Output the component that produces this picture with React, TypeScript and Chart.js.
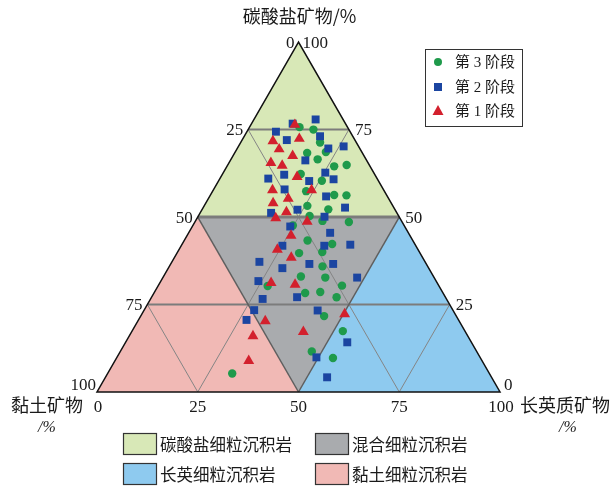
import React, { useEffect, useRef } from "react";
import { Chart, registerables } from "chart.js";

Chart.register(...registerables);

// ---- data: composition (%) of each sample ----
const stage3Carbonate = [75.7, 75.0, 71.3, 68.6, 68.3, 66.5, 64.5, 64.9, 62.3, 60.4, 57.4, 56.3, 56.2, 53.2, 52.2, 50.3, 48.9, 48.6, 47.6, 43.3, 42.3, 39.7, 40.0, 35.9, 33.0, 32.7, 30.3, 30.4, 28.3, 28.6, 27.1, 21.7, 17.4, 11.6, 9.7, 5.3];
const stage3Feldspar = [12.4, 16.2, 19.7, 22.5, 18.0, 21.5, 26.6, 29.5, 19.4, 25.6, 23.2, 30.7, 33.8, 25.6, 31.3, 27.6, 31.5, 38.2, 24.8, 30.6, 37.2, 30.3, 35.9, 38.0, 34.1, 40.3, 27.2, 45.6, 37.5, 41.1, 45.9, 45.5, 52.3, 47.5, 53.7, 30.9];
const stage3Clay = [11.9, 8.8, 9.0, 8.9, 13.7, 12.0, 8.9, 5.6, 18.3, 14.0, 19.4, 13.0, 10.0, 21.2, 16.5, 22.1, 19.6, 13.2, 27.6, 26.1, 20.5, 30.0, 24.1, 26.1, 32.9, 27.0, 42.5, 24.0, 34.2, 30.3, 27.0, 32.8, 30.3, 40.9, 36.6, 63.8];

const stage2Carbonate = [77.9, 76.7, 74.4, 73.1, 72.0, 69.6, 70.2, 66.2, 62.7, 60.8, 61.0, 62.1, 60.3, 57.9, 55.9, 52.7, 51.2, 52.1, 50.1, 47.3, 45.5, 41.8, 42.1, 41.8, 37.2, 36.6, 36.6, 35.4, 32.7, 31.7, 26.6, 27.1, 23.4, 23.3, 20.6, 14.2, 9.9, 4.2];
const stage2Feldspar = [15.3, 10.2, 7.2, 18.8, 11.1, 22.6, 26.1, 18.6, 25.3, 28.3, 12.0, 15.4, 22.5, 17.6, 28.9, 35.2, 17.6, 23.7, 31.4, 24.3, 35.1, 35.5, 41.8, 25.1, 21.7, 34.4, 40.3, 28.3, 48.2, 24.2, 27.8, 36.1, 27.3, 43.1, 26.8, 55.0, 49.5, 55.0];
const stage2Clay = [6.8, 13.1, 18.4, 8.1, 16.9, 7.8, 3.7, 15.2, 12.0, 10.9, 27.0, 22.5, 17.2, 24.5, 15.2, 12.1, 31.2, 24.2, 18.5, 28.4, 19.4, 22.7, 16.1, 33.1, 41.1, 29.0, 23.1, 36.3, 19.1, 44.1, 45.6, 36.8, 49.3, 33.6, 52.6, 30.8, 40.6, 40.8];

const stage1Carbonate = [76.4, 72.4, 71.7, 69.4, 67.5, 65.5, 64.7, 61.5, 57.7, 57.7, 55.3, 54.0, 51.4, 49.7, 48.7, 44.7, 40.7, 38.4, 31.2, 30.7, 22.3, 20.3, 16.0, 17.2, 8.9];
const stage1Feldspar = [10.9, 14.0, 7.8, 10.5, 14.8, 10.4, 13.6, 18.9, 24.4, 14.7, 19.8, 16.7, 21.3, 19.5, 27.8, 25.8, 24.4, 29.0, 27.6, 33.8, 50.3, 31.6, 30.7, 42.6, 33.2];
const stage1Clay = [12.7, 13.6, 20.5, 20.1, 17.7, 24.1, 21.7, 19.6, 17.9, 27.6, 24.9, 29.3, 27.3, 30.8, 23.5, 29.5, 34.9, 32.6, 41.2, 35.5, 27.4, 48.1, 53.3, 40.2, 57.9];

const tickValues = [0, 25, 50, 75, 100];
const gridValues = [25, 50, 75];
const stageLabels = ["第 3 阶段", "第 2 阶段", "第 1 阶段"];
const rockLabels = ["碳酸盐细粒沉积岩", "混合细粒沉积岩", "长英细粒沉积岩", "黏土细粒沉积岩"];
const axisTitles = { carbonate: "碳酸盐矿物/%", clay: "黏土矿物", feldspar: "长英质矿物", unit: "/%" };

const S3 = Math.sqrt(3) / 2;
const COLORS = {
  green: "#1f9a4b",
  blue: "#1b45a1",
  red: "#d3202d",
  carb: "#d8e8b7",
  mixed: "#a9abae",
  feld: "#8ecaef",
  clay: "#f1b9b5",
};

function toXY(c: number[], f: number[], k: number[]) {
  return c.map((cv, i) => {
    const tot = cv + f[i] + k[i];
    const cc = (cv / tot) * 100;
    const ff = (f[i] / tot) * 100;
    return { x: ff + cc / 2, y: cc * S3 };
  });
}

const SERIF = '"Liberation Serif", "Noto Sans CJK SC", serif';
const CJK = '"Noto Sans CJK SC", "Liberation Serif", sans-serif';

const ternaryPlugin = {
  id: "ternaryFrame",
  beforeDatasetsDraw(chart: any) {
    const { ctx, scales } = chart;
    const xs = scales.x, ys = scales.y;
    const P = (c: number, f: number): [number, number] => [xs.getPixelForValue(f + c / 2), ys.getPixelForValue(c * S3)];
    const poly = (pts: [number, number][], fill: string) => {
      ctx.beginPath();
      pts.forEach((p, i) => (i ? ctx.lineTo(p[0], p[1]) : ctx.moveTo(p[0], p[1])));
      ctx.closePath();
      ctx.fillStyle = fill;
      ctx.fill();
    };
    const line = (a: [number, number], b: [number, number], color: string, w: number) => {
      ctx.beginPath();
      ctx.moveTo(a[0], a[1]);
      ctx.lineTo(b[0], b[1]);
      ctx.strokeStyle = color;
      ctx.lineWidth = w;
      ctx.stroke();
    };
    ctx.save();
    poly([P(100, 0), P(50, 0), P(50, 50)], COLORS.carb);
    poly([P(50, 0), P(50, 50), P(0, 50)], COLORS.mixed);
    poly([P(0, 0), P(50, 0), P(0, 50)], COLORS.clay);
    poly([P(0, 50), P(50, 50), P(0, 100)], COLORS.feld);
    gridValues.forEach((v) => {
      const major = v === 50;
      line(P(v, 0), P(v, 100 - v), "#7c7c7c", major ? 3 : 2);
      line(P(0, v), P(100 - v, v), major ? "#5e5e5e" : "#858585", major ? 1.5 : 1);
      line(P(0, 100 - v), P(100 - v, 0), major ? "#5e5e5e" : "#858585", major ? 1.5 : 1);
    });
    ctx.beginPath();
    const a = P(100, 0), b = P(0, 0), c = P(0, 100);
    ctx.moveTo(a[0], a[1]);
    ctx.lineTo(b[0], b[1]);
    ctx.lineTo(c[0], c[1]);
    ctx.closePath();
    ctx.strokeStyle = "#111";
    ctx.lineWidth = 1.5;
    ctx.lineJoin = "miter";
    ctx.stroke();
    ctx.restore();
  },
  afterDatasetsDraw(chart: any) {
    const { ctx, scales } = chart;
    const xs = scales.x, ys = scales.y;
    const P = (c: number, f: number): [number, number] => [xs.getPixelForValue(f + c / 2), ys.getPixelForValue(c * S3)];
    ctx.save();
    ctx.fillStyle = "#1a1a1a";
    ctx.font = `17px ${SERIF}`;
    ctx.textBaseline = "middle";
    tickValues.forEach((v) => {
      const p = P(100 - v, 0);
      ctx.textAlign = "right";
      if (v === 0) ctx.fillText(String(v), p[0] - 4, p[1] + 1);
      else if (v === 100) ctx.fillText(String(v), p[0] - 1, p[1] - 6);
      else ctx.fillText(String(v), p[0] - 5, p[1] + 1);
    });
    tickValues.forEach((v) => {
      const p = P(v, 100 - v);
      ctx.textAlign = "left";
      if (v === 100) ctx.fillText(String(v), p[0] + 4, p[1] + 1);
      else if (v === 0) ctx.fillText(String(v), p[0] + 4, p[1] - 6);
      else ctx.fillText(String(v), p[0] + 6, p[1] + 1);
    });
    ctx.textAlign = "center";
    tickValues.forEach((v) => {
      const p = P(0, v);
      ctx.fillText(String(v), p[0] + (v === 0 ? 1 : v === 100 ? 1 : 0), p[1] + 16);
    });
    const top = P(100, 0), bl = P(0, 0), br = P(0, 100);
    ctx.font = `18px ${CJK}`;
    ctx.textAlign = "center";
    ctx.fillText(axisTitles.carbonate, top[0] + 1, top[1] - 26);
    ctx.fillText(axisTitles.clay, bl[0] - 50, bl[1] + 13);
    ctx.fillText(axisTitles.feldspar, br[0] + 65, br[1] + 13);
    ctx.font = `italic 16px ${SERIF}`;
    ctx.fillText(axisTitles.unit, bl[0] - 50, bl[1] + 36);
    ctx.fillText(axisTitles.unit, br[0] + 68, br[1] + 36);

    ctx.lineWidth = 1;
    ctx.strokeStyle = "#333";
    ctx.fillStyle = "#fff";
    ctx.fillRect(425.5, 49.5, 97, 77);
    ctx.strokeRect(425.5, 49.5, 97, 77);
    const rowsY = [62, 87, 111];
    const mx = 438;
    ctx.fillStyle = COLORS.green;
    ctx.beginPath();
    ctx.arc(mx, rowsY[0], 4, 0, Math.PI * 2);
    ctx.fill();
    ctx.fillStyle = COLORS.blue;
    ctx.fillRect(mx - 4, rowsY[1] - 4, 8, 8);
    ctx.fillStyle = COLORS.red;
    ctx.beginPath();
    ctx.moveTo(mx, rowsY[2] - 6);
    ctx.lineTo(mx + 5.5, rowsY[2] + 4);
    ctx.lineTo(mx - 5.5, rowsY[2] + 4);
    ctx.closePath();
    ctx.fill();
    ctx.fillStyle = "#1a1a1a";
    ctx.font = `15px ${SERIF}`;
    ctx.textAlign = "left";
    stageLabels.forEach((t, i) => ctx.fillText(t, 455, rowsY[i] + 1));

    const boxes = [
      { x: 123, y: 433, c: COLORS.carb, t: rockLabels[0] },
      { x: 315, y: 433, c: COLORS.mixed, t: rockLabels[1] },
      { x: 123, y: 463, c: COLORS.feld, t: rockLabels[2] },
      { x: 315, y: 463, c: COLORS.clay, t: rockLabels[3] },
    ];
    ctx.font = `16.5px ${CJK}`;
    boxes.forEach((bx) => {
      ctx.fillStyle = bx.c;
      ctx.fillRect(bx.x, bx.y, 33, 21);
      ctx.strokeStyle = "#333";
      ctx.lineWidth = 1.2;
      ctx.strokeRect(bx.x + 0.5, bx.y + 0.5, 33, 21);
      ctx.fillStyle = "#1a1a1a";
      ctx.textAlign = "left";
      ctx.fillText(bx.t, bx.x + 37, bx.y + 11.5);
    });
    ctx.restore();
  },
};

export default function App() {
  const ref = useRef<HTMLCanvasElement | null>(null);
  useEffect(() => {
    if (!ref.current) return;
    const kx = 4.03;
    const ky = 4.04;
    const chart = new Chart(ref.current, {
      type: "scatter",
      data: {
        datasets: [
          {
            label: stageLabels[2],
            data: toXY(stage1Carbonate, stage1Feldspar, stage1Clay),
            pointStyle: "triangle",
            pointRadius: 6.3,
            backgroundColor: COLORS.red,
            borderWidth: 0,
            order: 1,
          },
          {
            label: stageLabels[1],
            data: toXY(stage2Carbonate, stage2Feldspar, stage2Clay),
            pointStyle: "rect",
            pointRadius: 5.6,
            backgroundColor: COLORS.blue,
            borderWidth: 0,
            order: 2,
          },
          {
            label: stageLabels[0],
            data: toXY(stage3Carbonate, stage3Feldspar, stage3Clay),
            pointStyle: "circle",
            pointRadius: 4.2,
            backgroundColor: COLORS.green,
            borderWidth: 0,
            order: 3,
          },
        ],
      },
      options: {
        responsive: false,
        animation: false,
        maintainAspectRatio: false,
        layout: { padding: 0, autoPadding: false },
        plugins: { legend: { display: false }, tooltip: { enabled: false }, title: { display: false } },
        events: [],
        scales: {
          x: { type: "linear", display: false, min: -97 / kx, max: (612 - 97) / kx },
          y: { type: "linear", display: false, min: -(489 - 392) / ky, max: 392 / ky },
        },
      },
      plugins: [ternaryPlugin],
    });
    return () => chart.destroy();
  }, []);
  return (
    <div style={{ position: "absolute", left: 0, top: 0, width: 612, height: 489, background: "#fff" }}>
      <canvas ref={ref} width={612} height={489} style={{ width: 612, height: 489, display: "block" }} />
    </div>
  );
}
